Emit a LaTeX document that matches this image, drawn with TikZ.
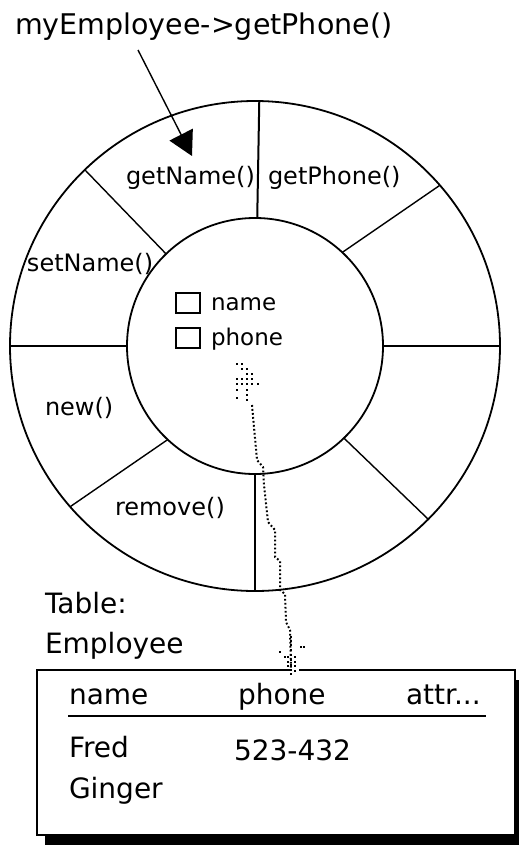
\documentclass[tikz,border=0pt]{standalone}
\usepackage{fontspec}
\setmainfont{DejaVu Sans}
\usetikzlibrary{arrows.meta}
\begin{document}
\begin{tikzpicture}[x=1pt,y=-1pt,
  lbl/.style={anchor=base west, inner sep=0, outer sep=0, font=\fontsize{24}{28}\selectfont},
  fld/.style={anchor=base west, inner sep=0, outer sep=0, font=\fontsize{23}{27}\selectfont},
  calltxt/.style={anchor=base west, inner sep=0, outer sep=0, font=\fontsize{28.5}{33}\selectfont},
  tbltxt/.style={anchor=base west, inner sep=0, outer sep=0, font=\fontsize{28}{32}\selectfont},
  ring/.style={circle, draw, line width=1.8pt, inner sep=0, outer sep=0},
  spoke/.style={line width=1.4pt},
  thickspoke/.style={line width=2pt},
  chk/.style={draw, line width=1.6pt, inner sep=0, outer sep=0, minimum width=24pt, minimum height=20pt},
  dotline/.style={line width=2pt, dash pattern=on 1.8pt off 2.2pt},
  pix/.style={fill=black},
]
\useasboundingbox (0,0) rectangle (519,846);

% ---- call label and arrow
\node[calltxt] (call) at (15,34) {myEmployee->getPhone()};
\coordinate (tail) at (138,50);
\coordinate (tip) at (192,156);
\draw[line width=1.4pt, -{Triangle[length=24pt,width=26pt]}] (tail) -- (tip);

% ---- rings
\node[ring, minimum size=490pt] (outer) at (255,346) {};
\node[ring, minimum size=256pt] (inner) at (255,346) {};

% ---- spokes
\draw[thickspoke] (inner.89.3) -- (outer.89.5);
\draw[spoke] (inner.134) -- (outer.134.5);
\draw[thickspoke] (inner.180) -- (outer.180);
\draw[spoke] (inner.227) -- (outer.221.5);
\draw[thickspoke] (inner.270) -- (outer.270);
\draw[spoke] (inner.-46.3) -- (outer.-45.2);
\draw[thickspoke] (inner.0) -- (outer.0);
\draw[spoke] (inner.47.5) -- (outer.41.5);

% ---- method labels
\node[lbl] (getname) at (126,184) {getName()};
\node[lbl] (getphone) at (268,184) {getPhone()};
\node[lbl] (setname) at (27,271) {setName()};
\node[lbl] (new) at (45,415) {new()};
\node[lbl] (remove) at (115,515) {remove()};

% ---- fields
\node[chk] (cb1) at (188,303) {};
\node[chk] (cb2) at (188,338) {};
\node[fld] (fname) at (211,310) {name};
\node[fld] (fphone) at (211,345) {phone};

% ---- table
\node[anchor=north west, inner sep=0, outer sep=0, minimum width=478pt, minimum height=165pt] (tbl) at (37,670) {};
\fill[black] ([shift={(8,10)}]tbl.north west) rectangle ([shift={(8,10)}]tbl.south east);
\fill[white] (tbl.north west) rectangle (tbl.south east);
\coordinate (gapL) at (292,670);
\coordinate (gapR) at (299,670);
\draw[line width=2pt] (gapL) -- (tbl.north west) -- (tbl.south west) -- (tbl.south east) -- (tbl.north east) -- (gapR);

\node[tbltxt] (ttl1) at (45,613) {Table:};
\node[tbltxt] (ttl2) at (45,653) {Employee};
\node[tbltxt] (hname) at (69,704) {name};
\node[tbltxt] (hphone) at (238,704) {phone};
\node[tbltxt] (hattr) at (406,704) {attr...};
\coordinate (ulL) at (68,716);
\coordinate (ulR) at (486,716);
\draw[line width=2pt] (ulL) -- (ulR);
\node[tbltxt] (fred) at (69,757) {Fred};
\node[tbltxt] (fredph) at (234,760) {523-432};
\node[tbltxt] (ginger) at (69,798) {Ginger};

% ---- dotted link between phone field and table
\coordinate (linkA) at (252,405);
\coordinate (linkB) at (291,668);
\draw[dotline] (linkA) -- (257,460) -- (263,467) -- (264,485) -- (268,522) -- (275,530) -- (275,557)
   -- (280,561) -- (280,590) -- (285,594) -- (286,622) -- (290,630) -- (linkB);
% top end marker (pixel dots)
\foreach \p in {(237,364),(242,364),(242,369),(247,369),(247,374),(252,374),
                (237,379),(242,379),(247,379),(252,379),
                (237,384),(242,384),(247,384),(252,384),(258,384),
                (237,390),(247,390),(237,398),(247,395),(247,400)}
  \fill[pix] \p ++(-1.1,-1.1) rectangle ++(2.2,2.2);
% bottom end marker (pixel dots)
\foreach \p in {(291,637),(291,641),(291,645),(291,650),(291,655),(291,660),(291,665),(291,670),(291,674),
                (301,647),(304,647),(280,652),
                (285,657),(288,657),(295,657),
                (288,662),(295,662),(288,666),(295,666),(295,671)}
  \fill[pix] \p ++(-1.1,-1.1) rectangle ++(2.2,2.2);
\end{tikzpicture}
\end{document}
